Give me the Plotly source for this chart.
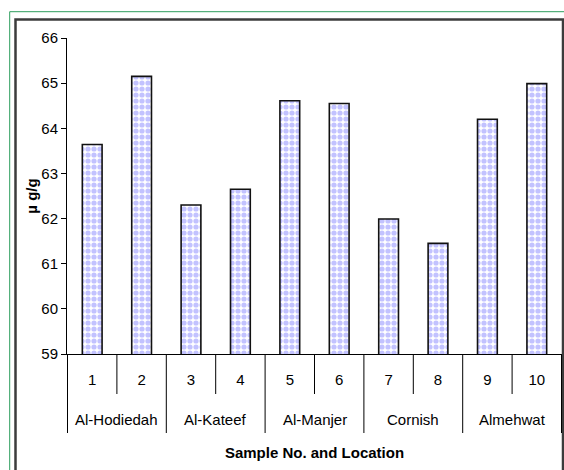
import plotly.graph_objects as go

# Sample numbers, their sampling locations and measured concentrations (µg/g)
sample_no = ["1", "2", "3", "4", "5", "6", "7", "8", "9", "10"]
location = ["Al-Hodiedah", "Al-Hodiedah", "Al-Kateef", "Al-Kateef",
            "Al-Manjer", "Al-Manjer", "Cornish", "Cornish",
            "Almehwat", "Almehwat"]
conc = [63.64, 65.15, 62.30, 62.65, 64.61, 64.55, 61.99, 61.45, 64.20, 64.99]

y_ticks = [59, 60, 61, 62, 63, 64, 65, 66]

FONT = "Liberation Sans, Arial, sans-serif"

# plot-area geometry in pixels (used for the frames and the category grid)
W, H = 564, 470
L, R, T, B = 67, 2, 38, 116
pw, ph = W - L - R, H - T - B


def px_x(x):
    return (x - L) / pw


def px_y(y):
    return (H - B - y) / ph


fig = go.Figure(
    go.Bar(
        x=sample_no,
        y=conc,
        marker=dict(
            color="white",
            line=dict(color="#111111", width=1.6),
            pattern=dict(shape=".", fgcolor="#8585ff", bgcolor="white",
                         size=6, solidity=0.6),
        ),
        hoverinfo="x+y",
    )
)

shapes = [
    # thin green outer border
    dict(type="rect", xref="paper", yref="paper", layer="below",
         x0=px_x(9.7), x1=px_x(580), y0=px_y(11.7), y1=px_y(490),
         line=dict(color="#2e9e5e", width=1)),
    # dark chart frame
    dict(type="rect", xref="paper", yref="paper", layer="below",
         x0=px_x(15.5), x1=px_x(563), y0=px_y(19.5), y1=px_y(490),
         line=dict(color="#3c3c3c", width=2.5)),
]

# category separators below the axis: short ones between samples,
# long ones where the location changes
n = len(sample_no)
for i in range(n + 1):
    edge = i == 0 or i == n or location[i - 1] != location[i]
    shapes.append(dict(
        type="line", xref="x", yref="paper",
        x0=i - 0.5, x1=i - 0.5,
        y0=0, y1=px_y(433 if edge else 394),
        line=dict(color="black", width=1),
    ))

# location labels centred under their sample groups
annotations = []
groups = []
for i, loc in enumerate(location):
    if not groups or groups[-1][0] != loc:
        groups.append([loc, i, i])
    else:
        groups[-1][2] = i
for loc, a, b in groups:
    annotations.append(dict(
        text=loc, xref="x", yref="paper", x=(a + b) / 2, y=px_y(419),
        showarrow=False, xanchor="center", yanchor="middle",
        font=dict(size=15),
    ))

fig.update_layout(
    width=W, height=H,
    margin=dict(l=L, r=R, t=T, b=B),
    paper_bgcolor="white", plot_bgcolor="white",
    bargap=0.6,
    showlegend=False,
    font=dict(family=FONT, size=15, color="black"),
    shapes=shapes,
    annotations=annotations,
)

fig.update_yaxes(
    range=[59, 66],
    tickvals=y_ticks,
    ticks="outside", ticklen=5, tickcolor="black",
    showline=True, linecolor="black", linewidth=1,
    showgrid=False, zeroline=False,
    tickfont=dict(size=15),
    title=dict(text="<b>µ g/g</b>", font=dict(size=15), standoff=0),
)

fig.update_xaxes(
    type="category",
    ticks="", ticklabelstandoff=12,
    showline=True, linecolor="black", linewidth=1,
    showgrid=False,
    tickfont=dict(size=15),
    title=dict(text="<b>Sample No. and Location</b>", font=dict(size=15),
               standoff=60),
)

fig.write_html("out.html")
